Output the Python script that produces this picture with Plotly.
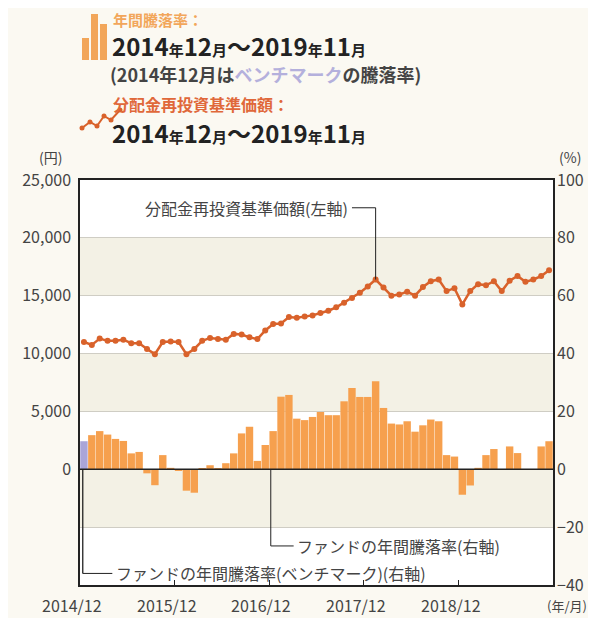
import plotly.graph_objects as go

# ---------------- data ----------------
months = [f"{2014 + (11 + i) // 12}/{(11 + i) % 12 + 1:02d}" for i in range(60)]
nav = [11000, 10750, 11300, 11100, 11100, 11200, 10900, 10900, 10400, 9950,
       11000, 11050, 11000, 9950, 10400, 11100, 11350, 11250, 11200, 11700,
       11650, 11400, 11250, 12000, 12550, 12600, 13150, 13100, 13200, 13300,
       13500, 13700, 14000, 14400, 14800, 15250, 15800, 16400, 15700, 15000,
       15100, 15350, 15000, 15750, 16250, 16400, 15400, 15650, 14250, 15400,
       16000, 15900, 16250, 15400, 16300, 16700, 16200, 16400, 16700, 17200]
ret = [9.7, 11.8, 13.2, 12.0, 10.5, 9.8, 5.5, 6.0, -1.4, -5.5,
       4.9, 0.5, -0.3, -7.4, -8.1, 0.2, 1.4, 0.3, 2.1, 5.5,
       12.4, 14.7, 2.9, 8.4, 13.2, 25.1, 25.7, 17.5, 17.0, 18.1,
       19.8, 18.7, 18.7, 23.5, 28.1, 25.0, 25.0, 30.4, 21.2, 15.8,
       15.5, 16.6, 13.0, 15.2, 17.2, 16.6, 4.9, 4.4, -8.8, -5.6,
       0.5, 4.9, 7.0, 0.0, 7.9, 5.6, 0.0, 0.0, 7.9, 9.7]
xtick_labels = ["2014/12", "2015/12", "2016/12", "2017/12", "2018/12"]
left_ticks = [0, 5000, 10000, 15000, 20000, 25000]
right_ticks = [-40, -20, 0, 20, 40, 60, 80, 100]

ORANGE = "#f6a04e"
PURPLE = "#aaa5d8"
RED = "#d9622b"
TXT = "#444444"
BAND = "#f3f1e5"
PAGE = "#fbf9f2"
FONT = "Noto Sans CJK JP"

OFF = 8  # browser body margin
W, H = 596 - OFF, 618 - OFF
L, R, T, B = 80, 553, 180, 585  # plot box in reference pixels


def px(x):
    return (x - L) / (R - L)


def py(y):
    return (B - y) / (B - T)


xi = list(range(len(months)))
fig = go.Figure()
fig.add_trace(go.Bar(
    x=xi, y=ret, yaxis="y2",
    marker=dict(color=[PURPLE] + [ORANGE] * (len(ret) - 1), line=dict(width=0)),
    hovertext=months, showlegend=False))
fig.add_trace(go.Scatter(
    x=xi, y=nav, yaxis="y", mode="lines+markers",
    line=dict(color=RED, width=2.5), marker=dict(color=RED, size=6),
    hovertext=months, showlegend=False))

shapes = []
for lo, hi in [(60, 80), (20, 40), (-20, 0)]:
    shapes.append(dict(type="rect", xref="paper", yref="y2", x0=0, x1=1, y0=lo, y1=hi,
                       fillcolor=BAND, line=dict(width=0), layer="below"))
shapes.append(dict(type="line", xref="paper", yref="y2", x0=0, x1=1, y0=0, y1=0,
                   line=dict(color="#222", width=1.5)))

# leader lines
peak_i = nav.index(max(nav[:40]))
LY = 22600
shapes.append(dict(type="line", xref="x", yref="y", x0=peak_i, x1=peak_i,
                   y0=nav[peak_i], y1=LY, line=dict(color="#222", width=1)))
shapes.append(dict(type="line", xref="x", yref="y", x0=peak_i - 3.0, x1=peak_i,
                   y0=LY, y1=LY, line=dict(color="#222", width=1)))
fi = 24
FY = -26.5
shapes.append(dict(type="line", xref="x", yref="y2", x0=fi - 0.3, x1=fi - 0.3,
                   y0=0, y1=FY, line=dict(color="#222", width=1)))
shapes.append(dict(type="line", xref="x", yref="y2", x0=fi - 0.3, x1=fi + 2.6,
                   y0=FY, y1=FY, line=dict(color="#222", width=1)))
BY = -36
shapes.append(dict(type="line", xref="x", yref="y2", x0=-0.15, x1=-0.15,
                   y0=0, y1=BY, line=dict(color="#222", width=1.3)))
shapes.append(dict(type="line", xref="x", yref="y2", x0=-0.15, x1=3.6,
                   y0=BY, y1=BY, line=dict(color="#222", width=1)))

# header icons: bar icon
for (x0, x1, y0) in [(82, 89, 38), (91, 98, 14), (100, 107, 24)]:
    shapes.append(dict(type="rect", xref="paper", yref="paper",
                       x0=px(x0), x1=px(x1), y0=py(60), y1=py(y0),
                       fillcolor="#f2a65a", line=dict(width=0)))
icon_pts = [(82, 128), (90, 122), (97, 126), (104, 116), (111, 120), (120, 110)]
path = "M " + " L ".join(f"{px(a)},{py(b)}" for a, b in icon_pts)
shapes.append(dict(type="path", xref="paper", yref="paper", path=path,
                   line=dict(color=RED, width=2)))
for a, b in icon_pts:
    shapes.append(dict(type="circle", xref="paper", yref="paper",
                       x0=px(a - 2.5), x1=px(a + 2.5), y0=py(b + 2.5), y1=py(b - 2.5),
                       fillcolor=RED, line=dict(width=0)))

ann = []


def text(x, y, s, size=13, color=TXT, xanchor="left", yanchor="middle"):
    ann.append(dict(xref="paper", yref="paper", x=px(x), y=py(y), text=s,
                    showarrow=False, xanchor=xanchor, yanchor=yanchor,
                    font=dict(family=FONT, size=size, color=color)))


sm = '<span style="font-size:15px">'
date_txt = (f"<b>2014{sm}年</span>12{sm}月</span>～2019{sm}年</span>11{sm}月</span></b>")
text(111, 19, "<b>年間騰落率：</b>", size=15, color="#f2a65a")
text(110, 45, date_txt, size=24, color="#222")
text(108, 74, f'<b>(2014年12月は<span style="color:#b4b0dc">ベンチマーク</span>の騰落率)</b>',
     size=18, color=TXT)
text(111, 104, "<b>分配金再投資基準価額：</b>", size=16, color="#e0683a")
text(110, 132, date_txt, size=24, color="#222")

text(50, 157, "(円)", size=14, xanchor="center")
text(570, 157, "(%)", size=14, xanchor="center")
text(589, 605, "(年/月)", size=13, xanchor="right")

for k, lab in enumerate(xtick_labels):
    xpix = L + (12 * k - 1.5 + 0.5) * (R - L) / len(months)
    text(xpix, 605, lab, size=16, xanchor="center")

ann.append(dict(xref="x", yref="y", x=peak_i - 3.2, y=LY,
                text="分配金再投資基準価額(左軸)", showarrow=False, xanchor="right",
                font=dict(family=FONT, size=16, color=TXT)))
ann.append(dict(xref="x", yref="y2", x=fi + 2.8, y=FY,
                text="ファンドの年間騰落率(右軸)", showarrow=False, xanchor="left",
                font=dict(family=FONT, size=16, color=TXT)))
ann.append(dict(xref="x", yref="y2", x=3.8, y=BY,
                text="ファンドの年間騰落率(ベンチマーク)(右軸)", showarrow=False,
                xanchor="left", font=dict(family=FONT, size=16, color=TXT)))

fig.update_layout(
    width=W, height=H,
    margin=dict(l=L - OFF, r=W - (R - OFF), t=T - OFF, b=H - (B - OFF)),
    paper_bgcolor=PAGE, plot_bgcolor="white",
    bargap=0.06,
    font=dict(family=FONT, size=13, color=TXT),
    xaxis=dict(range=[-0.5, 59.5], showgrid=False, zeroline=False,
               showline=True, mirror=True, linecolor="#222", linewidth=1.5,
               tickvals=[11.5, 23.5, 35.5, 47.5], ticks="inside", ticklen=5,
               tickcolor="#222", showticklabels=False),
    yaxis=dict(range=[-10000, 25000], tickvals=left_ticks,
               ticktext=[f"{v:,}" for v in left_ticks],
               showgrid=False, zeroline=False, showline=True, mirror=True,
               linecolor="#222", linewidth=1.5, ticks="", ticklabelstandoff=4,
               tickfont=dict(size=16, color=TXT)),
    yaxis2=dict(range=[-40, 100], tickvals=right_ticks, overlaying="y", side="right",
                showgrid=True, gridcolor="#cfcdc4", gridwidth=1, zeroline=False,
                showline=False, ticks="", ticklabelstandoff=3,
                tickfont=dict(size=16, color=TXT)),
    shapes=shapes, annotations=ann,
)
fig.write_html("out.html")
